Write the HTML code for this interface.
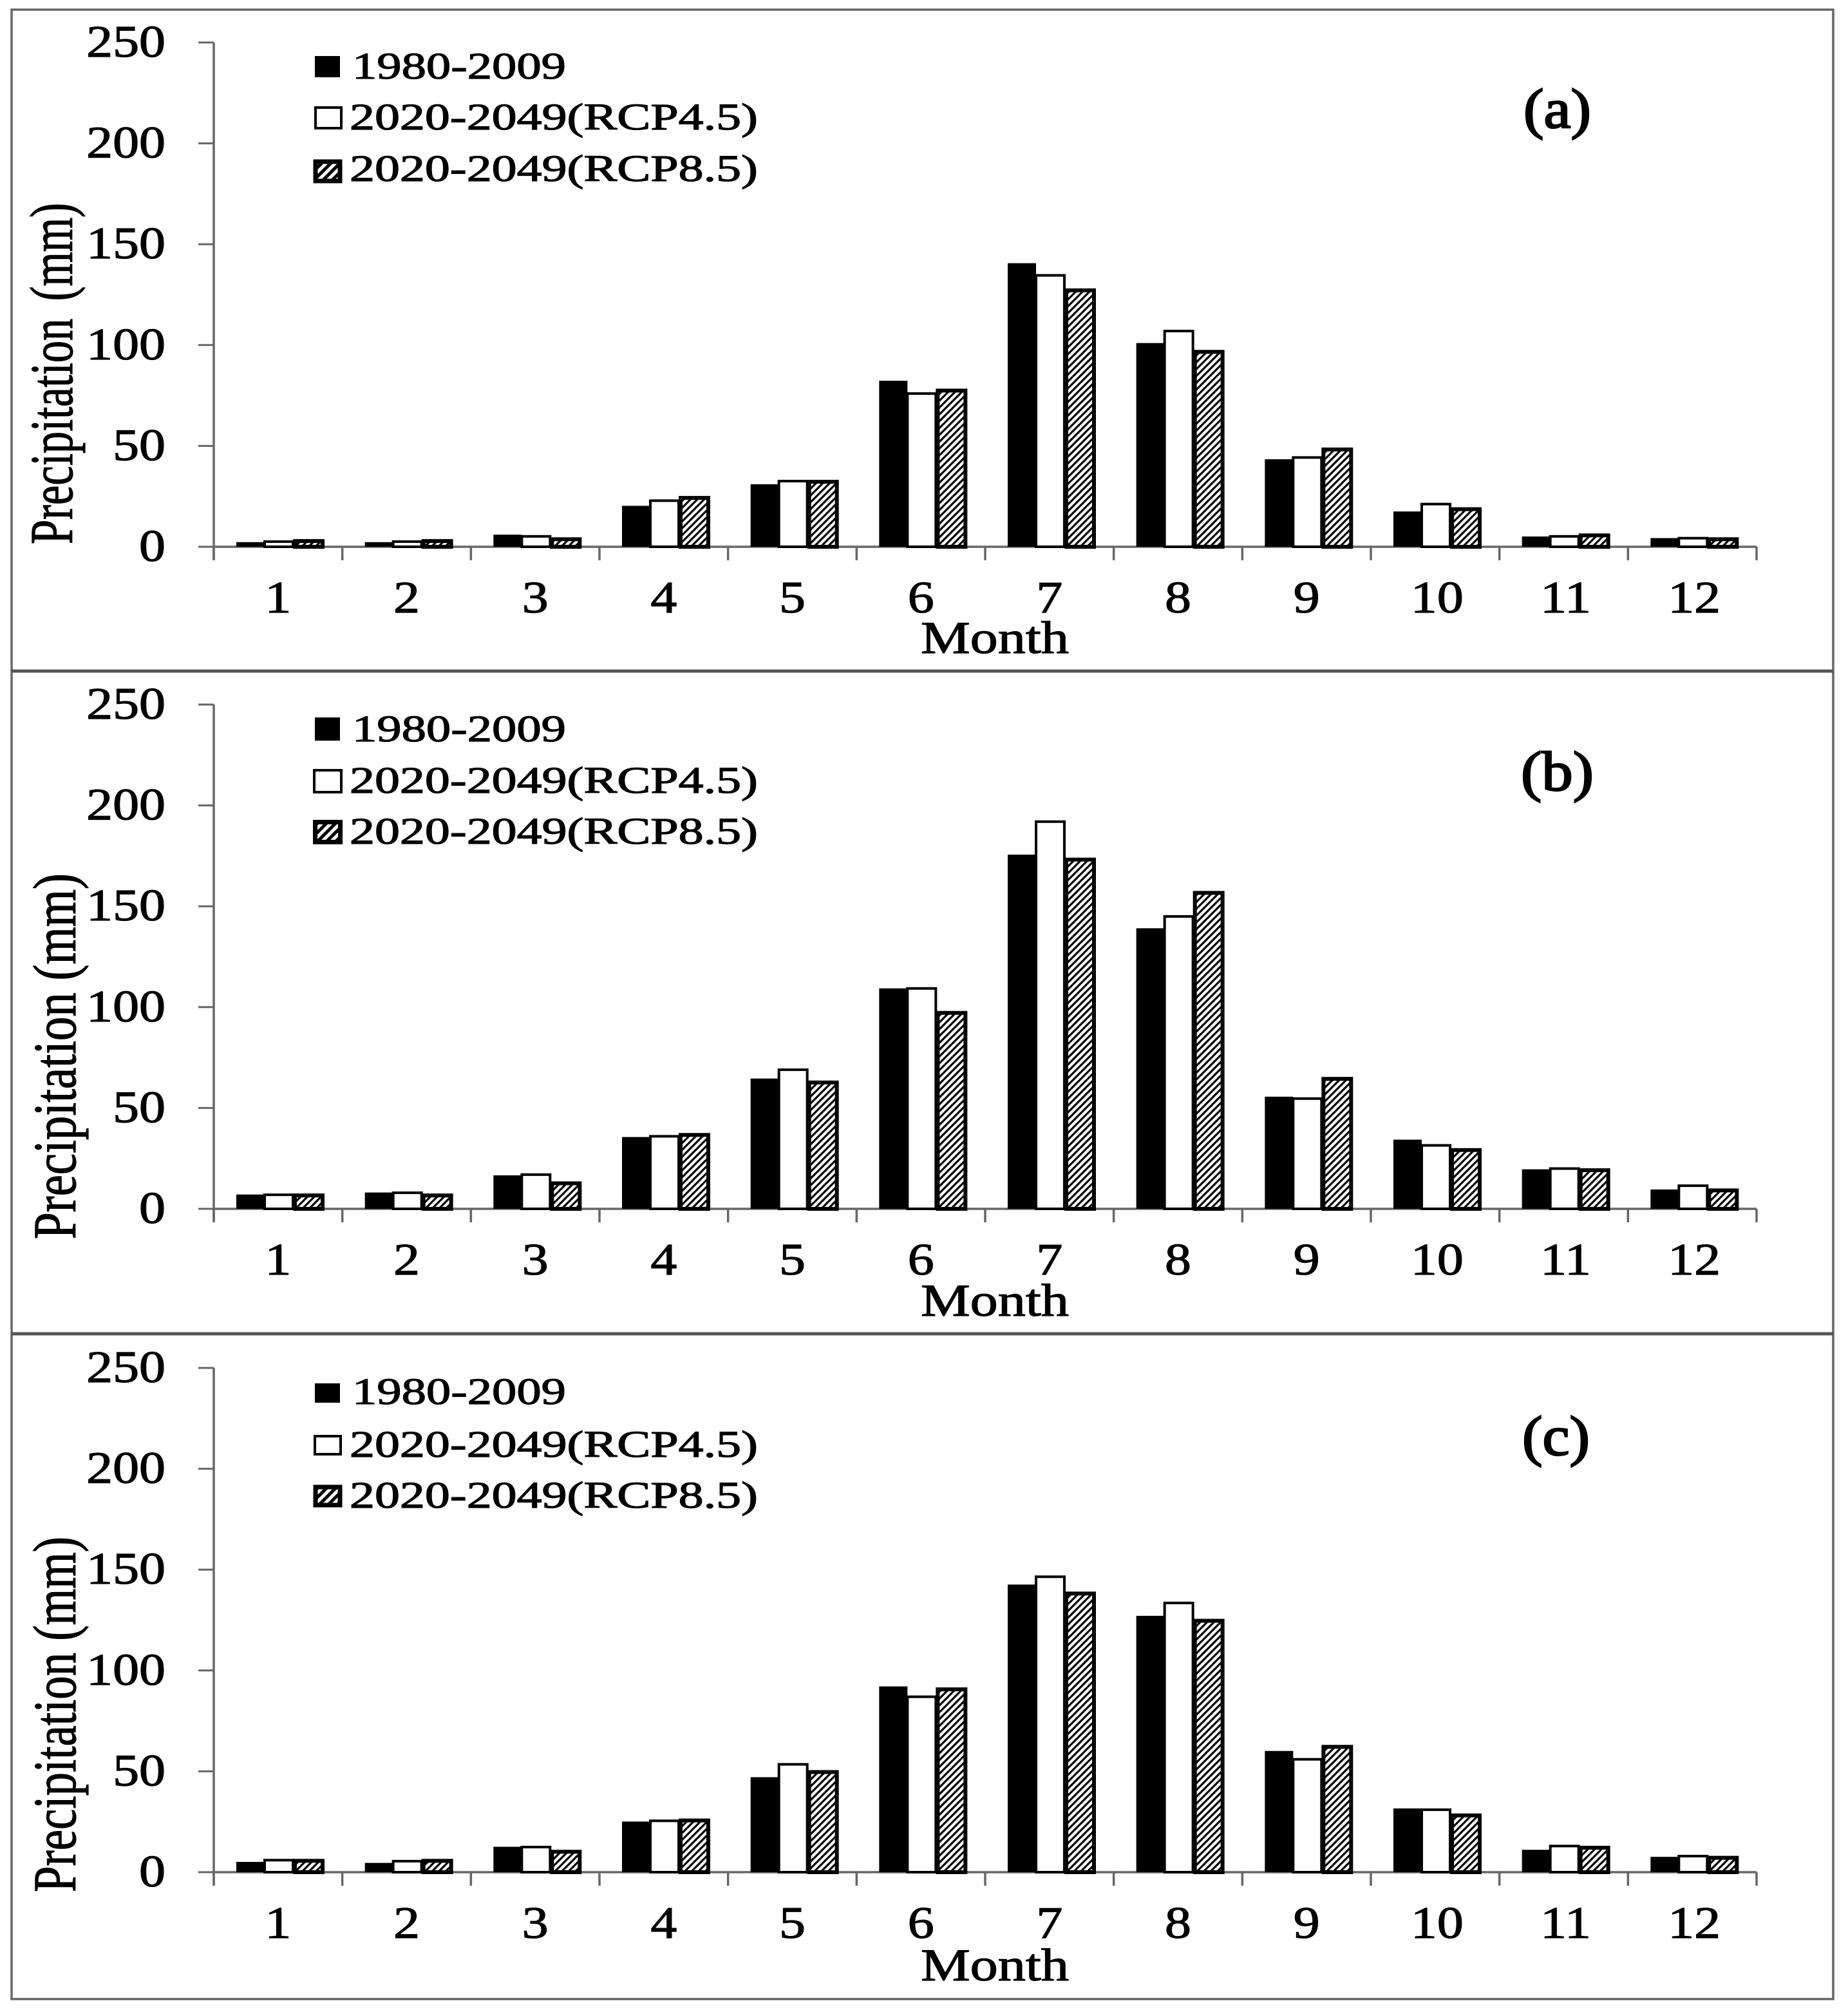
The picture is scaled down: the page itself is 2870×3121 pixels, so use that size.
<!DOCTYPE html>
<html>
<head>
<meta charset="utf-8">
<title>Monthly precipitation</title>
<style>
html,body{margin:0;padding:0;background:#fff;}
svg{display:block;}
text{font-family:"Liberation Serif",serif;fill:#000;stroke:#000;stroke-width:1.2px;}
</style>
</head>
<body>
<svg id="chart" xmlns="http://www.w3.org/2000/svg" width="2870" height="3121" viewBox="0 0 2870 3121">
  <defs>
    <pattern id="hatch" patternUnits="userSpaceOnUse" width="7.5" height="7.5" patternTransform="rotate(45)">
      <rect width="7.5" height="7.5" fill="#fff"></rect>
      <rect width="3.2" height="7.5" fill="#000"></rect>
    </pattern>
    <pattern id="hatch-legend" patternUnits="userSpaceOnUse" width="10" height="10" patternTransform="rotate(45)">
      <rect width="10" height="10" fill="#fff"></rect>
      <rect width="5" height="10" fill="#000"></rect>
    </pattern>
  </defs>
  <rect x="0" y="0" width="2870" height="3121" fill="#fff"></rect>
  <rect x="18" y="15" width="2829" height="3089" fill="none" stroke="#666" stroke-width="3.5"></rect>
  <line x1="18" y1="1042" x2="2847" y2="1042" stroke="#555" stroke-width="5"></line>
  <line x1="18" y1="2071" x2="2847" y2="2071" stroke="#555" stroke-width="5"></line>

  <g id="panel-a"></g>
  <g id="panel-b"></g>
  <g id="panel-c"></g>

  <text transform="translate(112,580) rotate(-90)" text-anchor="middle" font-size="94" textLength="530" lengthAdjust="spacingAndGlyphs" style="word-spacing:14px">Precipitation (mm)</text>
  <text transform="translate(117,1640) rotate(-90)" text-anchor="middle" font-size="94" textLength="568" lengthAdjust="spacingAndGlyphs">Precipitation (mm)</text>
  <text transform="translate(117,2662) rotate(-90)" text-anchor="middle" font-size="94" textLength="552" lengthAdjust="spacingAndGlyphs">Precipitation (mm)</text>

  <text x="1545" y="1014" text-anchor="middle" font-size="71" textLength="230" lengthAdjust="spacingAndGlyphs">Month</text>
  <text x="1545" y="2043" text-anchor="middle" font-size="71" textLength="230" lengthAdjust="spacingAndGlyphs">Month</text>
  <text x="1545" y="3075" text-anchor="middle" font-size="71" textLength="230" lengthAdjust="spacingAndGlyphs">Month</text>

  <text x="2366" y="198" font-size="87" textLength="105" lengthAdjust="spacingAndGlyphs" style="stroke-width:2.4px">(a)</text>
  <text x="2362" y="1227" font-size="87" textLength="113" lengthAdjust="spacingAndGlyphs" style="stroke-width:2.4px">(b)</text>
  <text x="2364" y="2259" font-size="87" textLength="105" lengthAdjust="spacingAndGlyphs" style="stroke-width:2.4px">(c)</text>

  <g>
    <rect x="489" y="87" width="39" height="33" fill="#000"></rect>
    <text x="547" y="122" font-size="58" textLength="332" lengthAdjust="spacingAndGlyphs">1980-2009</text>
    <rect x="490" y="167" width="40" height="32" fill="#fff" stroke="#000" stroke-width="4"></rect>
    <text x="543" y="201" font-size="58" textLength="634" lengthAdjust="spacingAndGlyphs">2020-2049(RCP4.5)</text>
    <rect x="490" y="251" width="38" height="30" fill="url(#hatch-legend)" stroke="#000" stroke-width="7"></rect>
    <text x="543" y="281" font-size="58" textLength="634" lengthAdjust="spacingAndGlyphs">2020-2049(RCP8.5)</text>
  </g>
  <g>
    <rect x="489" y="1114" width="39" height="36" fill="#000"></rect>
    <text x="547" y="1151" font-size="58" textLength="332" lengthAdjust="spacingAndGlyphs">1980-2009</text>
    <rect x="488" y="1196" width="42" height="34" fill="#fff" stroke="#000" stroke-width="4"></rect>
    <text x="543" y="1231" font-size="58" textLength="634" lengthAdjust="spacingAndGlyphs">2020-2049(RCP4.5)</text>
    <rect x="489.5" y="1276.5" width="39" height="31" fill="url(#hatch-legend)" stroke="#000" stroke-width="7"></rect>
    <text x="543" y="1310" font-size="58" textLength="634" lengthAdjust="spacingAndGlyphs">2020-2049(RCP8.5)</text>
  </g>
  <g>
    <rect x="489" y="2148" width="39" height="30" fill="#000"></rect>
    <text x="547" y="2180" font-size="58" textLength="332" lengthAdjust="spacingAndGlyphs">1980-2009</text>
    <rect x="489" y="2230" width="40" height="28" fill="#fff" stroke="#000" stroke-width="4"></rect>
    <text x="543" y="2262" font-size="58" textLength="634" lengthAdjust="spacingAndGlyphs">2020-2049(RCP4.5)</text>
    <rect x="490" y="2309" width="38" height="28" fill="url(#hatch-legend)" stroke="#000" stroke-width="7"></rect>
    <text x="543" y="2341" font-size="58" textLength="634" lengthAdjust="spacingAndGlyphs">2020-2049(RCP8.5)</text>
  </g>
</svg>
<script>
var months = ['1','2','3','4','5','6','7','8','9','10','11','12'];
var yTicks = [0,50,100,150,200,250];

var baselineA = [2.3,2.3,6,20.3,31,82.3,140.6,101,43.4,17.5,5.1,4.3];
var rcp45A    = [3.2,3.2,5.8,23.5,33.2,76.6,135.2,107.6,44.9,21.8,5.8,4.9];
var rcp85A    = [3.8,3.8,4.7,25.2,33.2,78.4,128.1,97.6,49.2,19.6,6.6,4.7];

var baselineB = [7.1,8.1,16.6,35.6,64.6,109.3,175.6,139.1,55.6,34.3,19.6,9.6];
var rcp45B    = [7.6,8.6,17.6,36.6,69.6,109.9,192.6,145.6,55.3,32.1,20.6,12.1];
var rcp85B    = [7.6,7.6,13.6,37.6,63.6,98.1,174.1,157.6,65.4,30.1,20.1,10.1];

var baselineC = [5.1,4.6,12.6,25.1,47.1,92.1,142.6,127.1,60.1,31.6,11.1,7.6];
var rcp45C    = [6.6,6.1,13.1,26.1,54.1,87.6,147.1,134.1,56.6,31.6,13.6,8.6];
var rcp85C    = [6.6,6.6,11.1,26.6,50.6,91.6,139.1,125.6,63.1,29.1,13.1,8.1];

var SVGNS = 'http://www.w3.org/2000/svg';
var axisLeft = 332, axisRight = 2728, plotHeight = 783, yMax = 250;
var band = (axisRight - axisLeft) / months.length;

function make(tag, attrs, parent) {
  var el = document.createElementNS(SVGNS, tag);
  for (var k in attrs) { el.setAttribute(k, attrs[k]); }
  parent.appendChild(el);
  return el;
}
function xBand(i) { return axisLeft + band * i; }

function drawPanel(groupId, zeroY, s1, s2, s3) {
  var g = document.getElementById(groupId);
  function y(v) { return zeroY - v / yMax * plotHeight; }

  var yAxis = make('line', {x1:axisLeft,y1:y(yMax),x2:axisLeft,y2:zeroY + 21,stroke:'#666','stroke-width':3.5}, g);
  
  
  var xAxis = make('line', {x1:axisLeft,y1:zeroY,x2:axisRight,y2:zeroY,stroke:'#666','stroke-width':3.5}, g);
  
  

  yTicks.forEach(function (t) {
    var tick = make('line', {x1:308,y1:y(t),x2:axisLeft,y2:y(t),stroke:'#666','stroke-width':3}, g);
    
    
    var lab = make('text', {transform:'translate(257,' + (y(t) + 22) + ') scale(1.17,1)','text-anchor':'end','font-size':70}, g);
    lab.textContent = String(t);
    
    
  });

  for (var j = 0; j <= months.length; j++) {
    var xt = make('line', {x1:xBand(j),y1:zeroY,x2:xBand(j),y2:zeroY + 21,stroke:'#666','stroke-width':3.5}, g);
    
    
  }

  months.forEach(function (m, i) {
    var x0 = xBand(i);
    var nudge = m.length > 1 ? 3 : 0;
    var lab = make('text', {transform:'translate(' + (x0 + band / 2 + nudge) + ',' + (zeroY + 102) + ') scale(1.17,1)','text-anchor':'middle','font-size':70}, g);
    lab.textContent = m;
    
    

    var b1 = make('rect', {x:x0 + 35,y:y(s1[i]),width:44,height:zeroY - y(s1[i]),fill:'#000'}, g);
    
    

    var b2 = make('rect', {x:x0 + 79,y:y(s2[i]) + 2,width:44,height:Math.max(zeroY - y(s2[i]) - 2, 0),fill:'#fff',stroke:'#000','stroke-width':4}, g);
    
    

    var b3 = make('rect', {x:x0 + 126,y:y(s3[i]) + 3,width:43,height:Math.max(zeroY - y(s3[i]) - 3, 0),fill:'url(#hatch)',stroke:'#000','stroke-width':6}, g);
    
    
  });
}

drawPanel('panel-a', 849, baselineA, rcp45A, rcp85A);
drawPanel('panel-b', 1877, baselineB, rcp45B, rcp85B);
drawPanel('panel-c', 2907, baselineC, rcp45C, rcp85C);
</script>
</body>
</html>
